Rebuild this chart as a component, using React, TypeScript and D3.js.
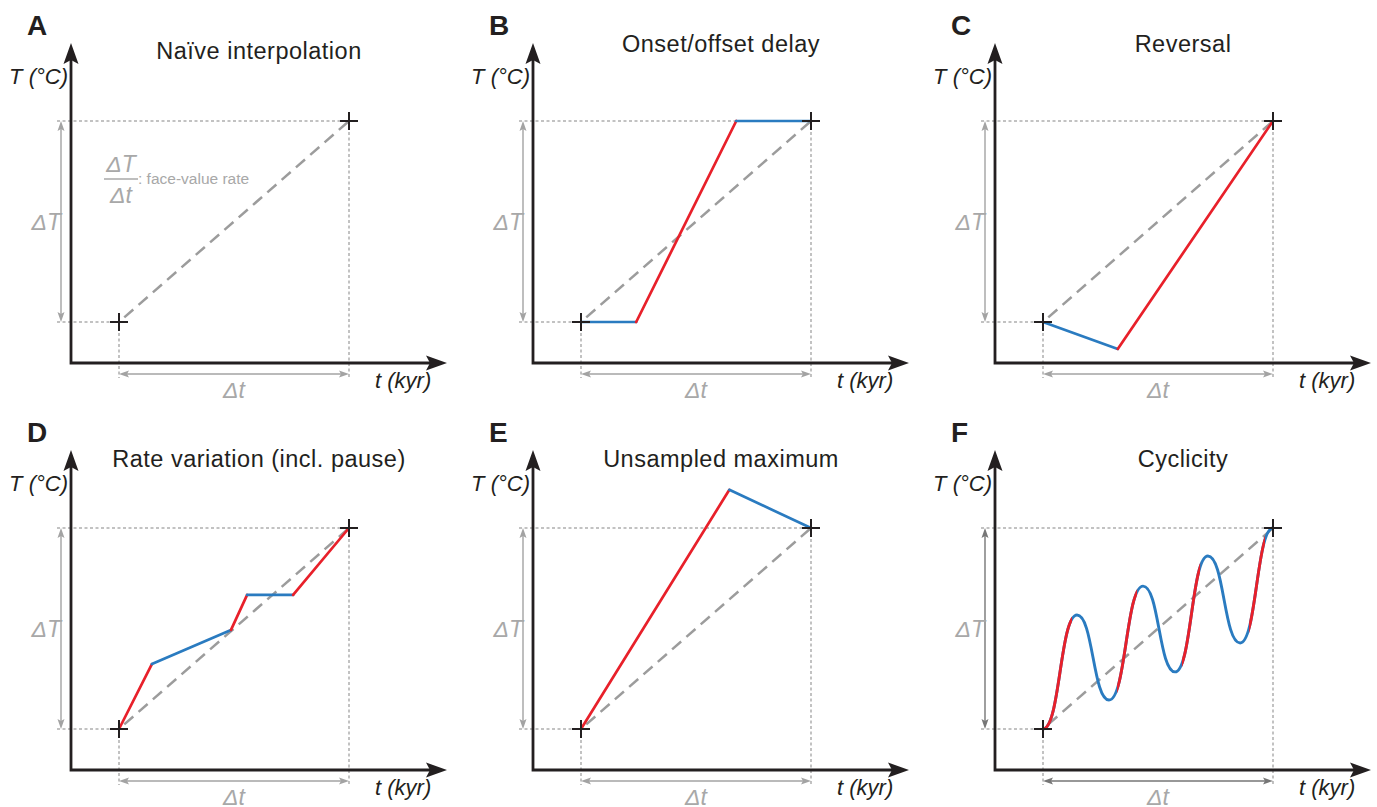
import React from "react";
import * as d3 from "d3";

// t and T are normalised: 0 at the first sample, 1 at the second one
const panelLetters = ["A", "B", "C", "D", "E", "F"];
const panelTitles = [
  "Naïve interpolation",
  "Onset/offset delay",
  "Reversal",
  "Rate variation (incl. pause)",
  "Unsampled maximum",
  "Cyclicity",
];

const delayT = [0, 0.24, 0.675, 1];
const delayV = [0, 0, 1, 1];
const delayKind = ["cool", "warm", "cool"];

const reversalT = [0, 0.325, 1];
const reversalV = [0, -0.134, 1];
const reversalKind = ["cool", "warm"];

const rateT = [0, 0.143, 0.487, 0.557, 0.757, 1];
const rateV = [0, 0.323, 0.493, 0.667, 0.667, 1];
const rateKind = ["warm", "cool", "warm", "cool", "warm"];

const maxT = [0, 0.645, 1];
const maxV = [0, 1.19, 1];
const maxKind = ["warm", "cool"];

// extrema of the cyclic curve in panel F
const cycleT = [0, 0.148, 0.287, 0.435, 0.574, 0.717, 0.857, 1];
const cycleV = [0, 0.567, 0.144, 0.711, 0.284, 0.861, 0.428, 1];
const cycleWarm = [[0, 0.126], [0.322, 0.409], [0.604, 0.683], [0.896, 0.965]];

const W = 1377;
const H = 807;
const FONT = "'Liberation Sans', Arial, Helvetica, sans-serif";
const AXIS = "#231f20";
const GUIDE = "#858585";
const LABEL = "#a8a8a8";
const colors = { warm: "#e8202a", cool: "#2a7bc0" };

const colOffset = [0, 462, 924];
const rowOffset = [0, 407];
const titleBase = [59, 52, 52, 60, 60, 60];

const polylines = [
  null,
  { t: delayT, v: delayV, kind: delayKind },
  { t: reversalT, v: reversalV, kind: reversalKind },
  { t: rateT, v: rateV, kind: rateKind },
  { t: maxT, v: maxV, kind: maxKind },
  null,
];

function cross(cx, cy, key) {
  return (
    <path key={key} d={`M${cx - 9},${cy}H${cx + 9}M${cx},${cy - 9}V${cy + 9}`}
      stroke={AXIS} strokeWidth={2} fill="none" />
  );
}

// small grey arrow heads of the ΔT / Δt spans
function headUp(x, y) { return `M${x},${y}L${x - 3.5},${y + 10}L${x},${y + 8}L${x + 3.5},${y + 10}Z`; }
function headDown(x, y) { return `M${x},${y}L${x - 3.5},${y - 10}L${x},${y - 8}L${x + 3.5},${y - 10}Z`; }
function headLeft(x, y) { return `M${x},${y}L${x + 10},${y - 3.5}L${x + 8},${y}L${x + 10},${y + 3.5}Z`; }
function headRight(x, y) { return `M${x},${y}L${x - 10},${y - 3.5}L${x - 8},${y}L${x - 10},${y + 3.5}Z`; }

function Panel({ i }) {
  const ox = colOffset[i % 3];
  const oy = rowOffset[Math.floor(i / 3)];
  const x = d3.scaleLinear().domain([0, 1]).range([119 + ox, 349 + ox]);
  const y = d3.scaleLinear().domain([0, 1]).range([322 + oy, 121 + oy]);
  const axX = 71 + ox;
  const axY = 363 + oy;
  const xs = x(0), xe = x(1), ys = y(0), ye = y(1);
  const spanColor = i === 5 ? "#767676" : "#a3a3a3";
  const dtY = axY + 11;
  const dTX = axX - 10;

  const line = d3.line().x(d => x(d[0])).y(d => y(d[1]));
  const poly = polylines[i];
  const segs = [];
  if (poly) {
    for (let k = 0; k < poly.kind.length; k++) {
      segs.push(
        <path key={`s${k}`}
          d={line([[poly.t[k], poly.v[k]], [poly.t[k + 1], poly.v[k + 1]]])}
          stroke={colors[poly.kind[k]]} strokeWidth={2.7} fill="none" strokeLinecap="round" />
      );
    }
  }

  let cycle = null;
  if (i === 5) {
    const smooth = d3.line().x(d => x(d[0])).y(d => y(d[1])).curve(d3.curveBumpX);
    const pts = cycleT.map((t, k) => [t, cycleV[k]]);
    const d = smooth(pts);
    cycle = (
      <g>
        <clipPath id="warm-clip">
          {cycleWarm.map(([a, b], k) => (
            <rect key={k} x={x(a) - (a === 0 ? 5 : 0)} y={0} width={x(b) - x(a) + (a === 0 ? 5 : 0)} height={H} />
          ))}
        </clipPath>
        <path d={d} stroke={colors.cool} strokeWidth={2.9} fill="none" />
        <path d={d} stroke={colors.warm} strokeWidth={2.9} fill="none" clipPath="url(#warm-clip)" />
      </g>
    );
  }

  return (
    <g>
      {/* dotted guides */}
      <g stroke={GUIDE} strokeWidth={1} strokeDasharray="3 2.5" fill="none">
        <line x1={axX - 14} x2={xs} y1={ys} y2={ys} />
        <line x1={axX - 14} x2={xe} y1={ye} y2={ye} />
        <line x1={xs} x2={xs} y1={ys} y2={axY + 15} />
        <line x1={xe} x2={xe} y1={ye} y2={axY + 15} />
      </g>

      {/* ΔT and Δt spans */}
      <line x1={dTX} x2={dTX} y1={ye + 4} y2={ys - 4} stroke={spanColor} strokeWidth={1.4} />
      <path d={headUp(dTX, ye)} fill={spanColor} />
      <path d={headDown(dTX, ys)} fill={spanColor} />
      <line x1={xs + 4} x2={xe - 4} y1={dtY} y2={dtY} stroke={spanColor} strokeWidth={1.4} />
      <path d={headLeft(xs, dtY)} fill={spanColor} />
      <path d={headRight(xe, dtY)} fill={spanColor} />

      {/* face-value interpolation */}
      <path d={line([[0, 0], [1, 1]])} stroke="#9c9c9c" strokeWidth={2.5}
        strokeDasharray="12 7" strokeDashoffset={12} fill="none" />

      {segs}
      {cycle}

      {cross(xs, ys, "c0")}
      {cross(xe, ye, "c1")}

      {/* axes */}
      <path d={`M${axX},${axY}V${43 + oy + 14}M${axX - 1.4},${axY}H${447 + ox - 14}`}
        stroke={AXIS} strokeWidth={2.8} fill="none" />
      <path d={`M${axX},${43 + oy}L${axX - 7.5},${64 + oy}L${axX},${60 + oy}L${axX + 7.5},${64 + oy}Z`} fill={AXIS} />
      <path d={`M${447 + ox},${axY}L${426 + ox},${axY - 7.5}L${430 + ox},${axY}L${426 + ox},${axY + 7.5}Z`} fill={AXIS} />

      {/* texts */}
      <g fontFamily={FONT}>
        <text x={axX - 44} y={35 + oy} fontSize={28} fontWeight="bold" fill={AXIS}>{panelLetters[i]}</text>
        <text x={259 + ox} y={titleBase[i] + oy} fontSize={23.5} letterSpacing={0.5} textAnchor="middle" fill={AXIS}>{panelTitles[i]}</text>
        <text x={axX - 3} y={84 + oy} fontSize={22} fontStyle="italic" textAnchor="end" fill={AXIS}>T (°C)</text>
        <text x={375 + ox} y={axY + 25} fontSize={22} fontStyle="italic" fill={AXIS}>t (kyr)</text>
        <text x={dTX} y={(ys + ye) / 2 + 8} fontSize={23} fontStyle="italic" textAnchor="end" fill={LABEL}>ΔT</text>
        <text x={(xs + xe) / 2} y={axY + 35} fontSize={23} fontStyle="italic" textAnchor="middle" fill={LABEL}>Δt</text>
      </g>

      {i === 0 && (
        <g fontFamily={FONT} fill={LABEL}>
          <text x={121} y={172} fontSize={23} fontStyle="italic" textAnchor="middle">ΔT</text>
          <line x1={104} x2={138} y1={179} y2={179} stroke={LABEL} strokeWidth={1.7} />
          <text x={121} y={203} fontSize={23} fontStyle="italic" textAnchor="middle">Δt</text>
          <text x={138} y={184} fontSize={15.5}>: face-value rate</text>
        </g>
      )}
    </g>
  );
}

export default function App() {
  return (
    <svg width={W} height={H} viewBox={`0 0 ${W} ${H}`}
      style={{ position: "absolute", left: 0, top: 0, background: "#fff" }}>
      <rect width={W} height={H} fill="#fff" />
      {panelLetters.map((_, i) => <Panel key={i} i={i} />)}
    </svg>
  );
}
